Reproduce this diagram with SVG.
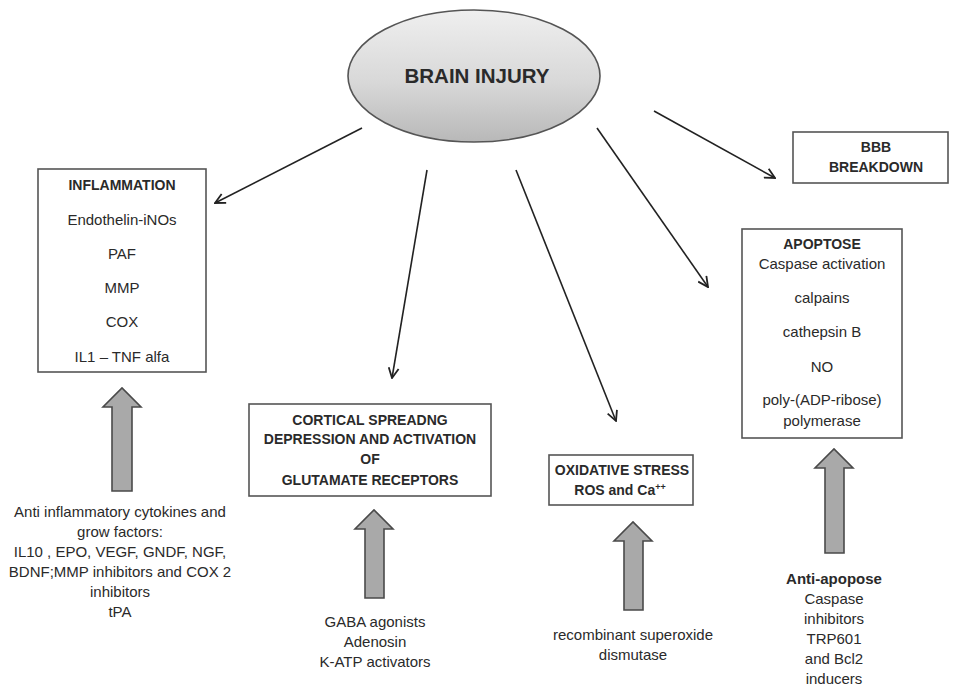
<svg xmlns="http://www.w3.org/2000/svg" width="954" height="689" viewBox="0 0 954 689">
<defs>
<linearGradient id="eg" x1="0" y1="0" x2="0" y2="1">
<stop offset="0" stop-color="#efefef"/>
<stop offset="0.55" stop-color="#d8d8d8"/>
<stop offset="1" stop-color="#b8b8b8"/>
</linearGradient>
<marker id="ah" viewBox="0 0 12 12" refX="11" refY="6" markerWidth="12" markerHeight="12" markerUnits="userSpaceOnUse" orient="auto">
<path d="M1,1 L11,6 L1,11" fill="none" stroke="#222" stroke-width="1.8"/>
</marker>
</defs>
<style>
text{font-family:"Liberation Sans",Arial,sans-serif;fill:#2a2a2a;text-anchor:middle;font-size:15px}
.b{font-weight:bold;font-size:14px}
.box{fill:#fff;stroke:#555;stroke-width:1.6}
.ln{stroke:#222;stroke-width:1.6;fill:none;marker-end:url(#ah)}
.blk{fill:#a9a9a9;stroke:#4a4a4a;stroke-width:1.6;stroke-linejoin:miter}
</style>
<rect width="954" height="689" fill="#fff"/>

<g id="brain-injury">
<ellipse cx="474" cy="76" rx="126" ry="66" fill="url(#eg)" stroke="#555" stroke-width="1.6"/>
<text x="477" y="83" class="b" style="font-size:20.5px">BRAIN INJURY</text>
</g>

<g id="connectors">
<line class="ln" x1="362" y1="128" x2="215" y2="203"/>
<line class="ln" x1="427" y1="170" x2="392" y2="378"/>
<line class="ln" x1="516" y1="170" x2="616" y2="421"/>
<line class="ln" x1="597" y1="128" x2="708" y2="287"/>
<line class="ln" x1="654" y1="111" x2="775" y2="178"/>
<path class="blk" d="M112,491 L112,407 L103,407 L122,388 L141,407 L132,407 L132,491 Z"/>
<path class="blk" d="M365,598 L365,529 L355,529 L374,510 L393,529 L384,529 L384,598 Z"/>
<path class="blk" d="M624,610 L624,541 L614,541 L633,522 L652,541 L643,541 L643,610 Z"/>
<path class="blk" d="M825,553 L825,468 L815,468 L834,449 L853,468 L844,468 L844,553 Z"/>
</g>

<g id="inflammation">
<rect class="box" x="38" y="169" width="168" height="203"/>
<text x="122" y="190" class="b">INFLAMMATION</text>
<text x="122" y="225">Endothelin-iNOs</text>
<text x="122" y="259">PAF</text>
<text x="122" y="293">MMP</text>
<text x="122" y="327">COX</text>
<text x="122" y="362">IL1 – TNF alfa</text>
</g>

<g id="cortical">
<rect class="box" x="249" y="404" width="242" height="92"/>
<text x="370" y="425" class="b">CORTICAL SPREADNG</text>
<text x="370" y="444" class="b">DEPRESSION AND ACTIVATION</text>
<text x="370" y="464" class="b">OF</text>
<text x="370" y="485" class="b">GLUTAMATE RECEPTORS</text>
</g>

<g id="oxidative">
<rect class="box" x="549" y="455" width="144" height="50"/>
<text x="622" y="475" class="b">OXIDATIVE STRESS</text>
<text x="620" y="495" class="b">ROS and Ca<tspan dy="-5" style="font-size:9px">++</tspan></text>
</g>

<g id="bbb">
<rect class="box" x="793" y="132" width="155" height="51"/>
<text x="876" y="152" class="b">BBB</text>
<text x="876" y="172" class="b">BREAKDOWN</text>
</g>

<g id="apoptose">
<rect class="box" x="742" y="229" width="160" height="209"/>
<text x="822" y="249" class="b">APOPTOSE</text>
<text x="822" y="269">Caspase activation</text>
<text x="822" y="303">calpains</text>
<text x="822" y="337">cathepsin B</text>
<text x="822" y="372">NO</text>
<text x="822" y="405">poly-(ADP-ribose)</text>
<text x="822" y="426">polymerase</text>
</g>

<g id="anti-inflammatory">
<text x="120" y="517">Anti inflammatory cytokines and</text>
<text x="120" y="537">grow factors:</text>
<text x="120" y="557">IL10 , EPO, VEGF, GNDF, NGF,</text>
<text x="120" y="577">BDNF;MMP inhibitors and COX 2</text>
<text x="120" y="597">inhibitors</text>
<text x="120" y="617">tPA</text>
</g>

<g id="gaba">
<text x="375" y="627">GABA agonists</text>
<text x="375" y="647">Adenosin</text>
<text x="375" y="667">K-ATP activators</text>
</g>

<g id="sod">
<text x="633" y="640">recombinant superoxide</text>
<text x="633" y="660">dismutase</text>
</g>

<g id="anti-apoptose">
<text x="834" y="584" class="b" style="font-size:15px">Anti-apopose</text>
<text x="834" y="604">Caspase</text>
<text x="834" y="624">inhibitors</text>
<text x="834" y="644">TRP601</text>
<text x="834" y="664">and Bcl2</text>
<text x="834" y="684">inducers</text>
</g>
</svg>
